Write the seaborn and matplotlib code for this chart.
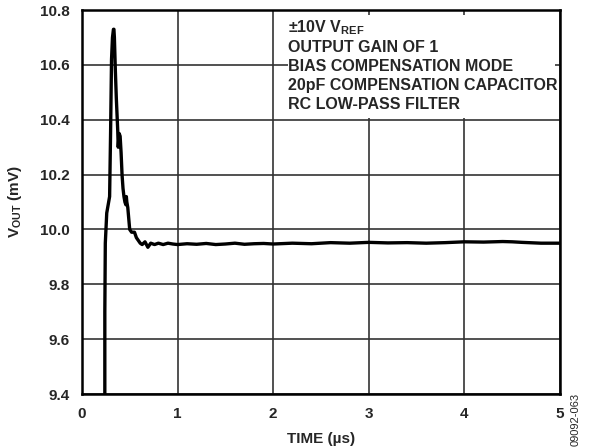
import matplotlib
matplotlib.use("Agg")
import matplotlib.pyplot as plt
from matplotlib.patches import Rectangle
import seaborn as sns
import pandas as pd

# settling response
time_us = [0.24, 0.24, 0.245, 0.26, 0.27, 0.28, 0.29, 0.30, 0.31, 0.32, 0.33, 0.335, 0.34,
           0.35, 0.36, 0.37, 0.375, 0.38, 0.39, 0.40, 0.41, 0.42, 0.43, 0.44, 0.45, 0.46,
           0.465, 0.47, 0.48, 0.49, 0.50, 0.52, 0.55, 0.57, 0.59, 0.61, 0.63, 0.66, 0.69,
           0.72, 0.76, 0.80, 0.85, 0.90, 0.95, 1.0, 1.1, 1.2, 1.3, 1.4, 1.5, 1.6, 1.7,
           1.8, 1.9, 2.0, 2.2, 2.4, 2.6, 2.8, 3.0, 3.2, 3.4, 3.6, 3.8, 4.0, 4.2, 4.4,
           4.5, 4.6, 4.8, 5.0]
vout_mv = [9.30, 9.70, 9.95, 10.06, 10.08, 10.10, 10.12, 10.35, 10.62, 10.70, 10.73, 10.73, 10.70,
           10.58, 10.48, 10.40, 10.36, 10.30, 10.35, 10.34, 10.28, 10.20, 10.15, 10.12, 10.10, 10.09,
           10.12, 10.10, 10.08, 10.04, 10.00, 9.99, 9.99, 9.97, 9.96, 9.95, 9.945, 9.955, 9.935,
           9.95, 9.945, 9.95, 9.945, 9.95, 9.947, 9.945, 9.948, 9.946, 9.949, 9.945, 9.947, 9.950, 9.946,
           9.948, 9.949, 9.947, 9.950, 9.948, 9.952, 9.950, 9.953, 9.951, 9.952, 9.950, 9.952, 9.955,
           9.954, 9.956, 9.955, 9.953, 9.950, 9.950]

x_ticks = [0, 1, 2, 3, 4, 5]
y_ticks = [9.4, 9.6, 9.8, 10.0, 10.2, 10.4, 10.6, 10.8]
notes = [r"±10V V$_{\rm REF}$", "OUTPUT GAIN OF 1", "BIAS COMPENSATION MODE",
         "20pF COMPENSATION CAPACITOR", "RC LOW-PASS FILTER"]

sns.set_style("white")
plt.rcParams["font.family"] = ["Liberation Sans", "DejaVu Sans"]
plt.rcParams["font.weight"] = "bold"
plt.rcParams["mathtext.fontset"] = "custom"
plt.rcParams["mathtext.rm"] = "Liberation Sans:bold"
plt.rcParams["mathtext.bf"] = "Liberation Sans:bold"

df = pd.DataFrame({"t": time_us, "v": vout_mv})

fig = plt.figure(figsize=(5.89, 4.48), dpi=100)
ax = fig.add_axes([0.139, 0.1205, 0.812, 0.857])
sns.lineplot(data=df, x="t", y="v", sort=False, estimator=None, color="black",
             linewidth=2.4, ax=ax, zorder=3)

ax.set_xlim(0, 5)
ax.set_ylim(9.4, 10.8)
ax.set_xticks(x_ticks)
ax.set_yticks(y_ticks)
ax.set_xticklabels([str(t) for t in x_ticks], fontsize=11, fontweight="bold")
ax.set_yticklabels([f"{t:.1f}" for t in y_ticks], fontsize=11, fontweight="bold")
ax.tick_params(axis="x", length=0, pad=9)
ax.tick_params(axis="y", length=0, pad=9)
ax.grid(True, color="#333333", linewidth=1.2, zorder=0)
ax.set_axisbelow(True)
for s in ax.spines.values():
    s.set_color("black")
    s.set_linewidth(1.8)

ax.set_xlabel("TIME (µs)", fontsize=11, fontweight="bold", labelpad=8)
ax.set_ylabel(r"V$_{\rm OUT}$ (mV)", fontsize=11, fontweight="bold", labelpad=11)

ax.add_patch(Rectangle((0.43, 0.72), 0.56, 0.268, transform=ax.transAxes,
                       facecolor="white", edgecolor="none", zorder=2))
for i, line in enumerate(notes):
    ax.text(0.431, 0.953 - i * 0.0495, line, transform=ax.transAxes, fontsize=11.5,
            fontweight="bold", va="center", ha="left", zorder=4)

fig.text(0.977, 0.005, "09092-063", rotation=90, fontsize=8, fontweight="normal",
         ha="center", va="bottom")

fig.savefig("out.png", dpi=100)
